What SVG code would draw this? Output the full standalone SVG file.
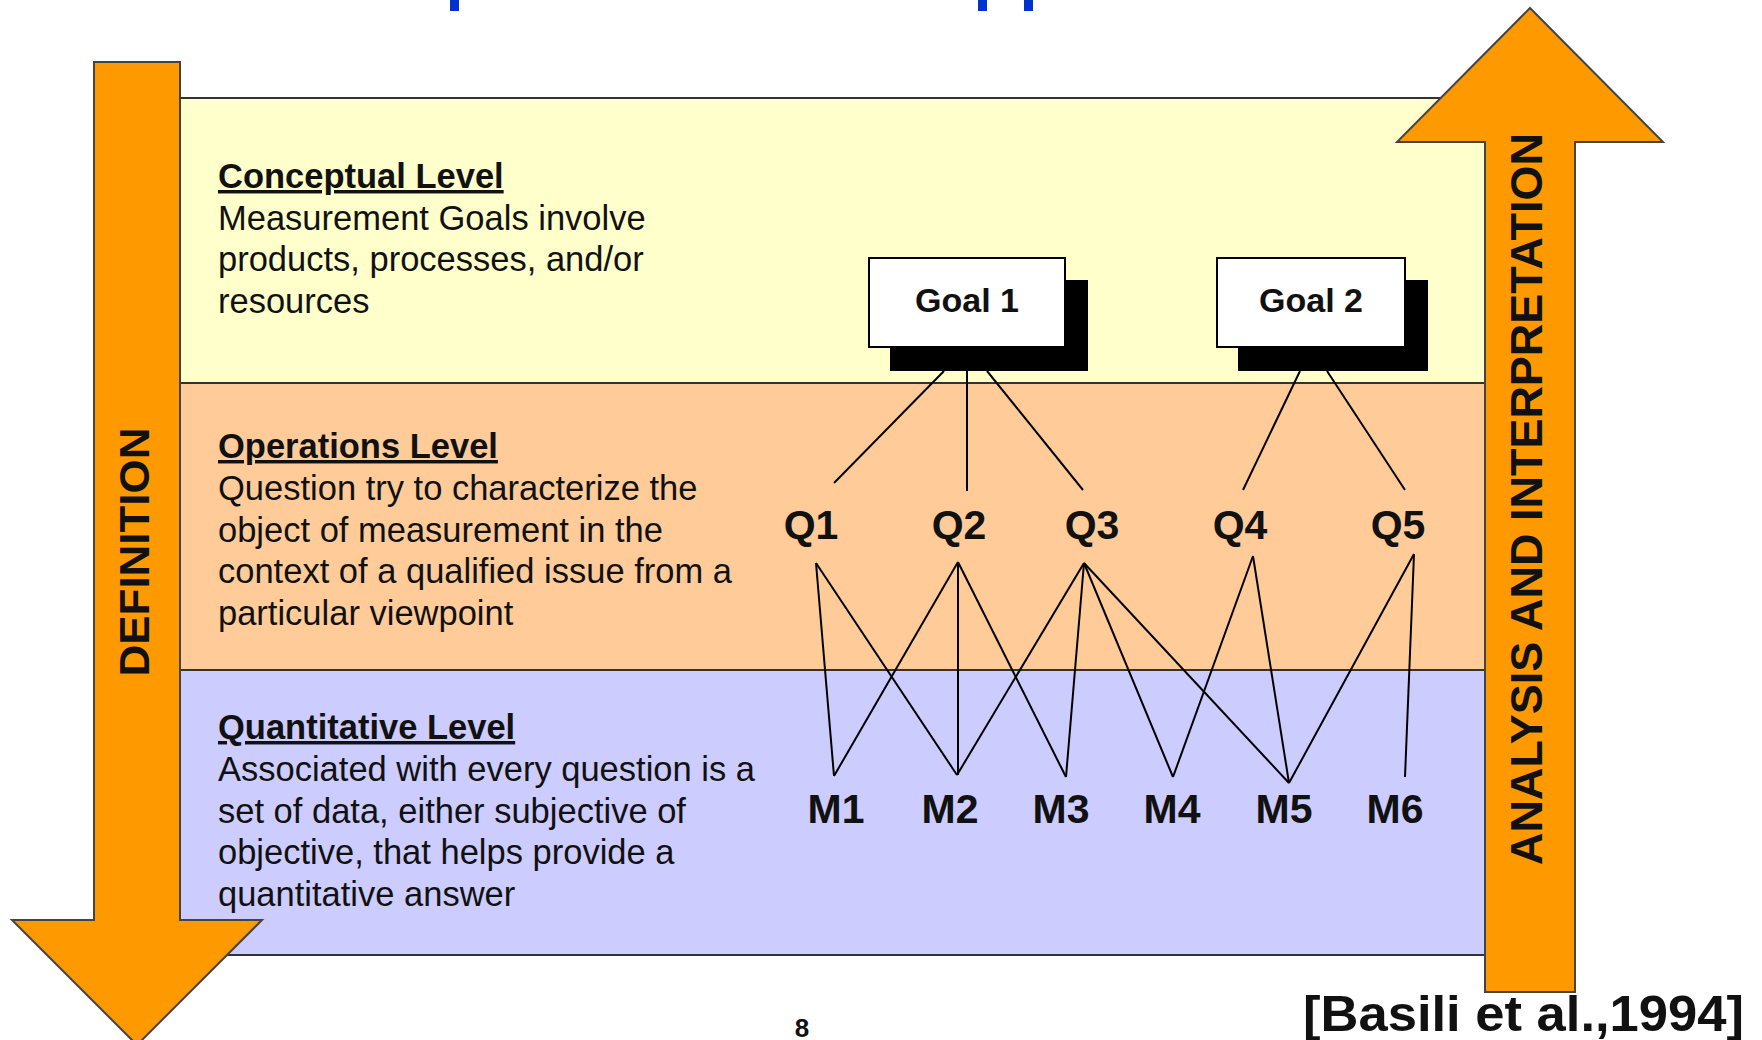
<svg xmlns="http://www.w3.org/2000/svg" width="1762" height="1040" viewBox="0 0 1762 1040">
<style>
text { font-family: "Liberation Sans", Arial, sans-serif; fill: #111; }
.desc { font-size: 34.5px; }
.ttl { font-size: 34.5px; font-weight: bold; text-decoration: underline; }
.lbl { font-size: 41px; font-weight: bold; text-anchor: middle; }
.goal { font-size: 34px; font-weight: bold; text-anchor: middle; }
.vert { font-weight: bold; text-anchor: middle; }
.panel { stroke: #333; stroke-width: 2; }
.arrow { fill: #FF9900; stroke: #444; stroke-width: 2; stroke-linejoin: miter; }
.conn line { stroke: #000; stroke-width: 2; }
.gbox { fill: #fff; stroke: #000; stroke-width: 2; }
.gshadow { fill: #000; }
</style>
<rect width="1762" height="1040" fill="#fff"/>
<g id="title-fragments" fill="#0033CC">
<rect x="450" y="0" width="9" height="11"/>
<rect x="978" y="0" width="9" height="11"/>
<rect x="1024" y="0" width="9" height="11"/>
</g>
<g id="panels">
<rect class="panel" x="180" y="98" width="1330" height="285" fill="#FFFFCC"/>
<rect class="panel" x="180" y="383" width="1330" height="287" fill="#FFCC99"/>
<rect class="panel" x="180" y="670" width="1330" height="285" fill="#CCCCFF"/>
</g>
<g id="arrow-definition">
<polygon class="arrow" points="94,62 180,62 180,920 262,920 137,1045 12,920 94,920"/>
<text class="vert" font-size="43" transform="translate(149,552) rotate(-90)" textLength="249" lengthAdjust="spacingAndGlyphs">DEFINITION</text>
</g>
<g id="arrow-analysis">
<polygon class="arrow" points="1530,8 1663,142 1575,142 1575,992 1485,992 1485,142 1397,142"/>
<text class="vert" font-size="44" transform="translate(1542,499) rotate(-90)" textLength="732" lengthAdjust="spacingAndGlyphs">ANALYSIS AND INTERPRETATION</text>
</g>
<g id="conceptual-text">
<text class="ttl" x="218" y="188">Conceptual Level</text>
<text class="desc" x="218" y="230">Measurement Goals involve</text>
<text class="desc" x="218" y="271">products, processes, and/or</text>
<text class="desc" x="218" y="313">resources</text>
</g>
<g id="operations-text">
<text class="ttl" x="218" y="458">Operations Level</text>
<text class="desc" x="218" y="500">Question try to characterize the</text>
<text class="desc" x="218" y="542">object of measurement in the</text>
<text class="desc" x="218" y="583">context of a qualified issue from a</text>
<text class="desc" x="218" y="625">particular viewpoint</text>
</g>
<g id="quantitative-text">
<text class="ttl" x="218" y="739">Quantitative Level</text>
<text class="desc" x="218" y="781">Associated with every question is a</text>
<text class="desc" x="218" y="823">set of data, either subjective of</text>
<text class="desc" x="218" y="864">objective, that helps provide a</text>
<text class="desc" x="218" y="906">quantitative answer</text>
</g>
<g id="goal1">
<rect class="gshadow" x="890" y="280" width="198" height="91"/>
<rect class="gbox" x="869" y="258" width="196" height="89"/>
<text class="goal" x="967" y="312">Goal 1</text>
</g>
<g id="goal2">
<rect class="gshadow" x="1238" y="280" width="190" height="91"/>
<rect class="gbox" x="1217" y="258" width="188" height="89"/>
<text class="goal" x="1311" y="312">Goal 2</text>
</g>
<g id="connectors" class="conn">
<line x1="944" y1="371" x2="834" y2="483"/>
<line x1="967" y1="371" x2="967" y2="491"/>
<line x1="987" y1="371" x2="1083" y2="490"/>
<line x1="1300" y1="371" x2="1243" y2="490"/>
<line x1="1327" y1="371" x2="1405" y2="490"/>
<line x1="816" y1="563" x2="834" y2="776"/>
<line x1="816" y1="563" x2="957" y2="775"/>
<line x1="958" y1="562" x2="834" y2="776"/>
<line x1="958" y1="562" x2="958" y2="775"/>
<line x1="958" y1="562" x2="1066" y2="777"/>
<line x1="1084" y1="563" x2="957" y2="775"/>
<line x1="1084" y1="563" x2="1066" y2="777"/>
<line x1="1084" y1="563" x2="1173" y2="777"/>
<line x1="1084" y1="563" x2="1289" y2="783"/>
<line x1="1253" y1="556" x2="1173" y2="777"/>
<line x1="1253" y1="556" x2="1289" y2="783"/>
<line x1="1414" y1="554" x2="1289" y2="783"/>
<line x1="1414" y1="554" x2="1405" y2="777"/>
</g>
<g id="q1"><text class="lbl" x="811" y="539">Q1</text></g>
<g id="q2"><text class="lbl" x="959" y="539">Q2</text></g>
<g id="q3"><text class="lbl" x="1092" y="539">Q3</text></g>
<g id="q4"><text class="lbl" x="1240" y="539">Q4</text></g>
<g id="q5"><text class="lbl" x="1398" y="539">Q5</text></g>
<g id="m1"><text class="lbl" x="836" y="823">M1</text></g>
<g id="m2"><text class="lbl" x="950" y="823">M2</text></g>
<g id="m3"><text class="lbl" x="1061" y="823">M3</text></g>
<g id="m4"><text class="lbl" x="1172" y="823">M4</text></g>
<g id="m5"><text class="lbl" x="1284" y="823">M5</text></g>
<g id="m6"><text class="lbl" x="1395" y="823">M6</text></g>
<g id="footer">
<text x="802" y="1037" font-size="26" font-weight="bold" text-anchor="middle">8</text>
<text x="1303" y="1031" font-size="50" font-weight="bold" textLength="441" lengthAdjust="spacingAndGlyphs">[Basili et al.,1994]</text>
</g>
</svg>
